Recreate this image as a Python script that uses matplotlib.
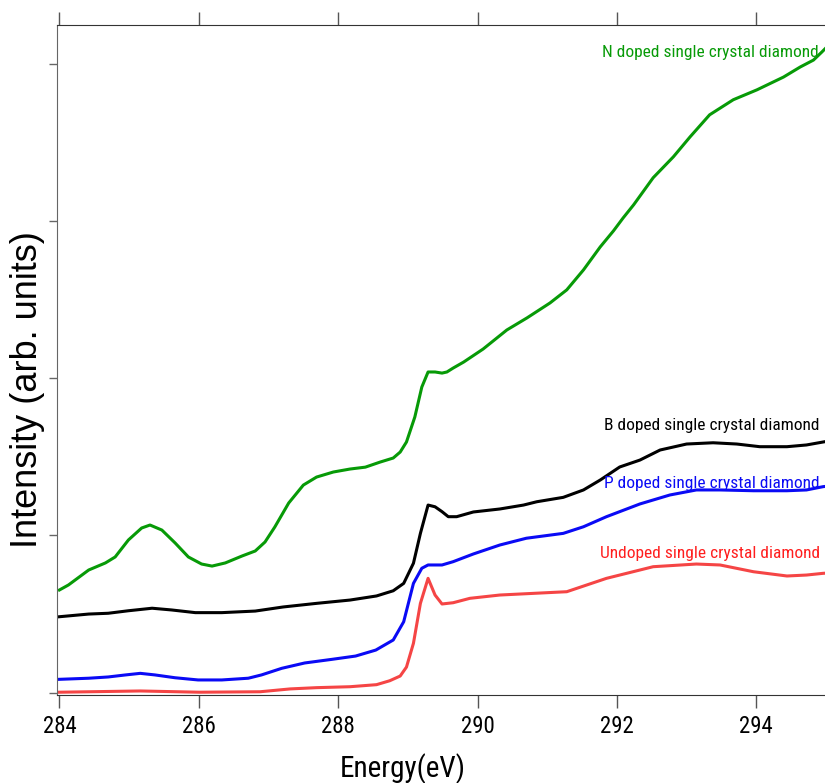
import matplotlib
matplotlib.use('Agg')
import matplotlib.pyplot as plt

# Data (Energy in eV, intensity in arb. units)
n_energy = [284.00, 284.13, 284.42, 284.66, 284.80, 284.99, 285.18, 285.30, 285.47, 285.66,
            285.85, 286.04, 286.19, 286.38, 286.62, 286.81, 286.95, 287.09, 287.29, 287.50,
            287.69, 287.93, 288.17, 288.39, 288.60, 288.79, 288.89, 288.98, 289.10, 289.20,
            289.29, 289.39, 289.49, 289.56, 289.65, 289.80, 290.08, 290.42, 290.71, 291.04,
            291.28, 291.52, 291.76, 291.95, 292.09, 292.24, 292.52, 292.81, 293.05, 293.33,
            293.67, 294.01, 294.39, 294.63, 294.82, 294.94, 295.00]
n_int = [0.653, 0.685, 0.780, 0.825, 0.863, 0.971, 1.047, 1.066, 1.034, 0.952,
         0.863, 0.818, 0.805, 0.825, 0.869, 0.901, 0.958, 1.053, 1.206, 1.320,
         1.371, 1.403, 1.422, 1.434, 1.466, 1.492, 1.530, 1.594, 1.753, 1.943,
         2.039, 2.039, 2.032, 2.039, 2.064, 2.102, 2.185, 2.306, 2.383, 2.478,
         2.561, 2.688, 2.834, 2.936, 3.019, 3.102, 3.274, 3.407, 3.534, 3.674,
         3.770, 3.833, 3.914, 3.978, 4.022, 4.073, 4.100]

b_energy = [284.00, 284.42, 284.70, 284.99, 285.33, 285.61, 285.95, 286.33, 286.81, 287.21,
            287.69, 288.17, 288.55, 288.79, 288.94, 289.08, 289.18, 289.29, 289.39, 289.49,
            289.58, 289.70, 289.94, 290.32, 290.66, 290.85, 291.23, 291.52, 291.76, 292.04,
            292.33, 292.62, 293.00, 293.38, 293.72, 294.05, 294.44, 294.72, 294.96, 295.00]
b_int = [0.483, 0.500, 0.505, 0.521, 0.537, 0.526, 0.509, 0.509, 0.519, 0.545,
         0.568, 0.589, 0.615, 0.648, 0.695, 0.823, 1.013, 1.193, 1.182, 1.151,
         1.119, 1.119, 1.149, 1.168, 1.193, 1.214, 1.242, 1.289, 1.352, 1.435,
         1.479, 1.543, 1.581, 1.589, 1.581, 1.564, 1.564, 1.575, 1.594, 1.597]

p_energy = [284.00, 284.42, 284.70, 284.95, 285.16, 285.37, 285.66, 285.99, 286.33, 286.71,
            286.90, 287.19, 287.52, 287.91, 288.25, 288.54, 288.79, 288.94, 289.08, 289.20,
            289.29, 289.49, 289.65, 289.94, 290.32, 290.70, 291.23, 291.52, 291.85, 292.33,
            292.76, 293.14, 293.48, 293.96, 294.44, 294.72, 294.96, 295.00]
p_int = [0.085, 0.092, 0.100, 0.113, 0.123, 0.113, 0.095, 0.081, 0.081, 0.092,
         0.113, 0.155, 0.189, 0.212, 0.233, 0.271, 0.335, 0.451, 0.695, 0.791,
         0.812, 0.812, 0.833, 0.882, 0.939, 0.982, 1.013, 1.055, 1.119, 1.200,
         1.257, 1.289, 1.289, 1.284, 1.284, 1.289, 1.310, 1.312]

u_energy = [284.00, 285.16, 286.01, 286.88, 287.31, 287.69, 288.17, 288.55, 288.74, 288.89,
            288.98, 289.08, 289.18, 289.29, 289.39, 289.49, 289.65, 289.89, 290.32, 291.28,
            291.85, 292.33, 292.52, 293.14, 293.48, 293.96, 294.44, 294.72, 294.96, 295.00]
u_int = [0.003, 0.011, 0.003, 0.006, 0.024, 0.032, 0.038, 0.051, 0.076, 0.106,
         0.163, 0.314, 0.568, 0.727, 0.621, 0.564, 0.572, 0.600, 0.621, 0.642,
         0.727, 0.780, 0.801, 0.818, 0.812, 0.769, 0.742, 0.748, 0.759, 0.760]

labels = ['N doped single crystal diamond', 'B doped single crystal diamond',
          'P doped single crystal diamond', 'Undoped single crystal diamond']
label_x = [291.79, 291.81, 291.81, 291.75]
label_y = [4.043, 1.670, 1.301, 0.856]
colors = ['#079a07', '#000000', '#0a0af5', '#f54545']
text_colors = ['#079a07', '#000000', '#0a0af5', '#ff1e1e']

xticks = [284, 286, 288, 290, 292, 294]
yticks = [0, 1, 2, 3, 4]

narrow = ['Roboto Condensed', 'Liberation Sans', 'DejaVu Sans']

fig = plt.figure(figsize=(8.25, 7.83), dpi=100)
ax = fig.add_axes([0.0695, 0.1124, 0.9317, 0.856])

series = [(n_energy, n_int), (b_energy, b_int), (p_energy, p_int), (u_energy, u_int)]
for (xe, yi), c in zip(series, colors):
    ax.plot(xe, yi, color=c, lw=2.2, solid_joinstyle='round')

for t, tx, ty, tc in zip(labels, label_x, label_y, text_colors):
    ax.text(tx, ty, t, color=tc, fontsize=12.5, family=narrow, va='baseline', ha='left')

ax.set_xlim(283.97, 295.0)
ax.set_ylim(-0.0146, 4.2467)
ax.set_xticks(xticks)
ax.set_yticks(yticks)
ax.set_yticklabels([])
ax.tick_params(axis='x', direction='out', length=9.4, width=1, color='#555555',
               top=True, labeltop=False, pad=5, labelsize=16.5)
ax.tick_params(axis='y', direction='out', length=5.8, width=1, color='#666666')
for lab in ax.get_xticklabels():
    lab.set_family(narrow)

ax.spines['right'].set_visible(False)
ax.spines['left'].set_color('#666666')
ax.spines['top'].set_color('#333333')
ax.spines['bottom'].set_color('#333333')

fig.text(403 / 825, 1 - 777 / 783, 'Energy(eV)', fontsize=21, family=narrow,
         ha='center', va='baseline')
fig.text(28 / 825, 1 - 390 / 783, 'Intensity (arb. units)', fontsize=26,
         family=['Liberation Sans', 'DejaVu Sans'], rotation=90, ha='center', va='center')

fig.savefig('out.png', dpi=100)
